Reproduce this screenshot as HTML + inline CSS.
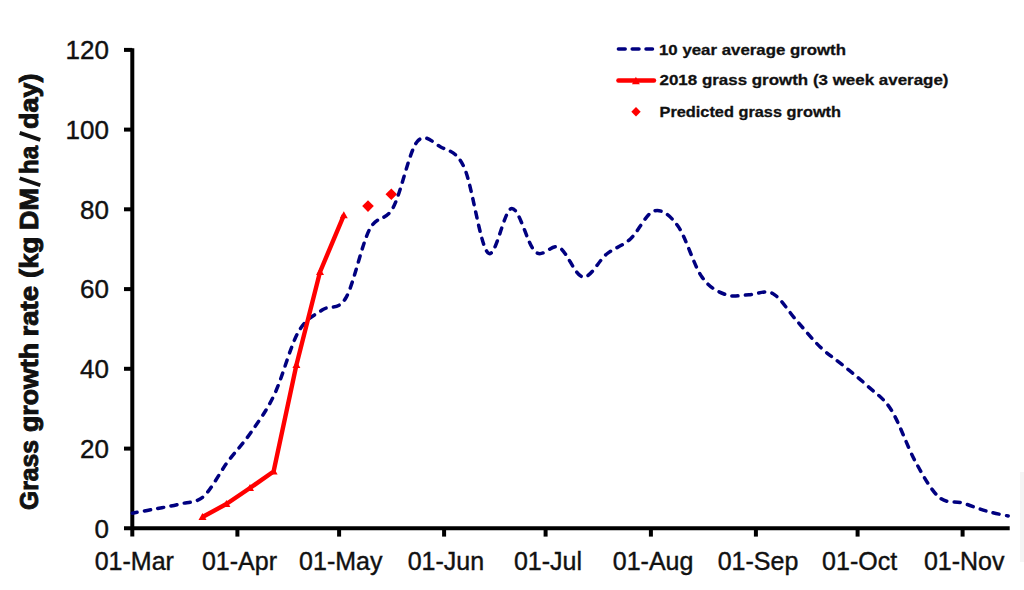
<!DOCTYPE html><html><head><meta charset="utf-8"><style>html,body{margin:0;padding:0;background:#fff;}svg{display:block}</style></head><body><svg width="1024" height="590" viewBox="0 0 1024 590">
<rect width="1024" height="590" fill="#fff"/>
<rect x="1020" y="472" width="4" height="90" fill="#f5f5f5"/>
<g stroke="#000" stroke-width="4" fill="none">
<path d="M132.3,48.2 V536.6"/>
<path d="M124,528.3 H1009.7"/>
<path d="M124,448.6 H132.3"/>
<path d="M124,368.8 H132.3"/>
<path d="M124,289.1 H132.3"/>
<path d="M124,209.3 H132.3"/>
<path d="M124,129.6 H132.3"/>
<path d="M124,49.9 H132.3"/>
<path d="M237.4,528.3 V536.6"/>
<path d="M339.1,528.3 V536.6"/>
<path d="M444.1,528.3 V536.6"/>
<path d="M545.6,528.3 V536.6"/>
<path d="M650.9,528.3 V536.6"/>
<path d="M755.9,528.3 V536.6"/>
<path d="M857.6,528.3 V536.6"/>
<path d="M962.6,528.3 V536.6"/>
</g>
<g font-family='"Liberation Sans", sans-serif' font-size="26" fill="#111" stroke="#111" stroke-width="0.4" text-anchor="end">
<text x="109" y="537.6">0</text>
<text x="109" y="457.9">20</text>
<text x="109" y="378.1">40</text>
<text x="109" y="298.4">60</text>
<text x="109" y="218.6">80</text>
<text x="109" y="138.9">100</text>
<text x="109" y="59.2">120</text>
</g>
<g font-family='"Liberation Sans", sans-serif' font-size="25" fill="#111" stroke="#111" stroke-width="0.4" text-anchor="middle">
<text x="134.3" y="570">01-Mar</text>
<text x="239.5" y="570">01-Apr</text>
<text x="340.8" y="570">01-May</text>
<text x="445.9" y="570">01-Jun</text>
<text x="548.0" y="570">01-Jul</text>
<text x="653.1" y="570">01-Aug</text>
<text x="758.0" y="570">01-Sep</text>
<text x="859.6" y="570">01-Oct</text>
<text x="964.2" y="570">01-Nov</text>
</g>
<g transform="translate(38,0) rotate(-90)" font-family='"Liberation Sans", sans-serif' font-weight="bold" font-size="25" fill="#111" stroke="#111" stroke-width="0.9">
<text x="-510.00" y="0" textLength="70.00" lengthAdjust="spacingAndGlyphs">Grass</text>
<text x="-432.00" y="0" textLength="89.10" lengthAdjust="spacingAndGlyphs">growth</text>
<text x="-336.50" y="0" textLength="50.60" lengthAdjust="spacingAndGlyphs">rate</text>
<text x="-278.00" y="0" textLength="41.50" lengthAdjust="spacingAndGlyphs">(kg</text>
<text x="-230.00" y="0" textLength="42.00" lengthAdjust="spacingAndGlyphs">DM</text>
<text x="-174.00" y="0" textLength="28.00" lengthAdjust="spacingAndGlyphs">ha</text>
<text x="-129.00" y="0" textLength="55.40" lengthAdjust="spacingAndGlyphs">day)</text>
</g>
<path d="M19.7,178.2 L40.3,185.2 M19.7,132.9 L40.3,139.9" stroke="#111" stroke-width="3.8" fill="none"/>
<path d="M368.0,200.3 L373.8,206.1 L368.0,211.9 L362.2,206.1Z" fill="#f00"/>
<path d="M391.3,188.5 L397.1,194.3 L391.3,200.1 L385.5,194.3Z" fill="#f00"/>
<path d="M132.3,513.2 C136.3,512.5 148.1,510.3 156.0,508.8 C163.9,507.3 171.8,506.1 179.7,504.0 C187.6,501.9 195.6,503.4 203.5,496.5 C211.4,489.6 219.3,473.2 227.2,462.5 C235.1,451.8 243.0,443.9 250.9,432.5 C258.8,421.1 266.7,410.8 274.6,394.0 C282.5,377.2 290.4,346.0 298.3,332.0 C306.2,318.0 314.2,315.7 322.1,310.0 C330.0,304.3 337.9,311.4 345.8,298.0 C353.7,284.6 361.6,244.6 369.5,229.5 C377.4,214.4 385.3,222.1 393.2,207.5 C401.1,192.9 409.0,152.1 416.9,142.0 C424.8,131.9 432.8,142.7 440.7,147.0 C448.6,151.3 456.5,150.3 464.4,168.0 C472.3,185.7 480.2,246.2 488.1,253.0 C496.0,259.8 503.9,208.7 511.8,208.5 C519.7,208.3 527.6,245.5 535.5,252.0 C543.4,258.5 551.4,243.3 559.3,247.5 C567.2,251.7 575.1,275.9 583.0,277.0 C590.9,278.1 598.8,260.3 606.7,254.0 C614.6,247.7 622.5,246.2 630.4,239.0 C638.3,231.8 646.2,213.2 654.1,211.0 C662.0,208.8 670.0,215.1 677.9,226.0 C685.8,236.9 693.7,265.1 701.6,276.5 C709.5,287.9 717.4,291.4 725.3,294.5 C733.2,297.6 741.1,295.0 749.0,294.8 C756.9,294.6 764.8,289.2 772.7,293.5 C780.6,297.8 788.6,311.6 796.5,320.5 C804.4,329.4 812.3,339.4 820.2,347.0 C828.1,354.6 836.0,359.5 843.9,366.0 C851.8,372.5 859.7,378.7 867.6,386.0 C875.5,393.3 883.4,397.5 891.3,410.0 C899.2,422.5 907.2,446.5 915.1,461.0 C923.0,475.5 930.9,490.0 938.8,497.0 C946.7,504.0 954.6,500.7 962.5,503.0 C970.4,505.3 978.6,508.8 986.2,511.0 C993.8,513.2 1004.5,515.2 1008.2,516.0" fill="none" stroke="#000080" stroke-width="3.5" stroke-dasharray="6.1 7.42" stroke-dashoffset="1.2" stroke-linecap="round"/>
<polyline points="202.5,517.0 226.4,504.0 250.0,488.0 273.6,471.5 296.4,365.0 320.0,272.0 343.8,215.3" fill="none" stroke="#f00" stroke-width="4.4" stroke-linejoin="round"/>
<path d="M198.5,520.0 L202.5,513.0 L206.5,520.0Z" fill="#f00"/>
<path d="M222.4,507.0 L226.4,500.0 L230.4,507.0Z" fill="#f00"/>
<path d="M246.0,491.0 L250.0,484.0 L254.0,491.0Z" fill="#f00"/>
<path d="M269.6,474.5 L273.6,467.5 L277.6,474.5Z" fill="#f00"/>
<path d="M292.4,368.0 L296.4,361.0 L300.4,368.0Z" fill="#f00"/>
<path d="M316.0,275.0 L320.0,268.0 L324.0,275.0Z" fill="#f00"/>
<path d="M339.8,218.3 L343.8,211.3 L347.8,218.3Z" fill="#f00"/>
<path d="M618.4,49.1 H652.5" stroke="#000080" stroke-width="3.5" stroke-dasharray="6.8 7.0" stroke-linecap="round"/>
<path d="M618.4,80.5 H654" stroke="#f00" stroke-width="4.4" stroke-linecap="round"/>
<path d="M632,84.2 L635.9,76.8 L639.8,84.2Z" fill="#f00"/>
<path d="M636,107 L640.7,111.7 L636,116.4 L631.3,111.7Z" fill="#f00"/>
<g font-family='"Liberation Sans", sans-serif' font-weight="bold" font-size="15.5" fill="#111" stroke="#111" stroke-width="0.3">
<text x="659" y="54.8" textLength="187" lengthAdjust="spacingAndGlyphs">10 year average growth</text>
<text x="659.5" y="85.3" textLength="289" lengthAdjust="spacingAndGlyphs">2018 grass growth (3 week average)</text>
<text x="659.5" y="116.6" textLength="181.5" lengthAdjust="spacingAndGlyphs">Predicted grass growth</text>
</g>
</svg></body></html>
